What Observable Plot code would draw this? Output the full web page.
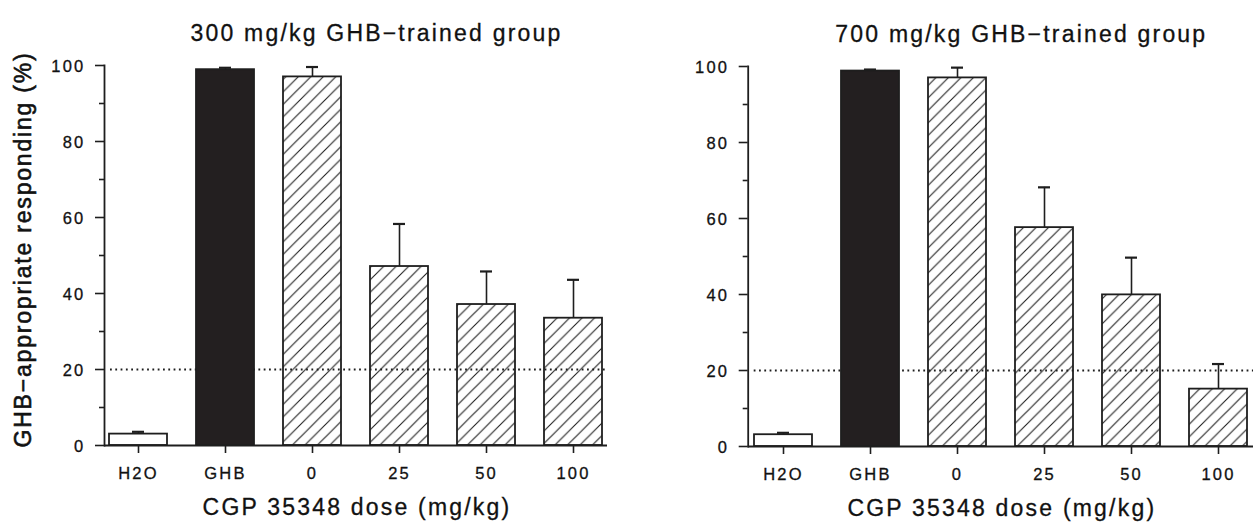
<!DOCTYPE html>
<html>
<head>
<meta charset="utf-8">
<script src="https://cdn.jsdelivr.net/npm/d3@7"></script>
<script src="https://cdn.jsdelivr.net/npm/@observablehq/plot@0.6"></script>
<style>
  body { margin: 0; background: #fff; }
  #wrap { display: flex; width: 1253px; height: 527px; overflow: hidden; }
  #wrap svg text { font-family: "Liberation Sans", Arial, sans-serif; }
</style>
</head>
<body>
<div id="wrap"></div>
<script>
// ---- data ----
const categories = ["H2O", "GHB", "0", "25", "50", "100"];
const barKind = ["vehicle", "training", "test", "test", "test", "test"];
const groupTitles = ["300 mg/kg GHB\u2212trained group", "700 mg/kg GHB\u2212trained group"];
const mean300 = [3.0, 98.9, 97.0, 47.1, 37.1, 33.5];
const sem300  = [0.6, 0.5, 2.6, 11.2, 8.7, 10.1];
const mean700 = [3.1, 98.8, 97.0, 57.6, 39.9, 15.1];
const sem700  = [0.5, 0.4, 2.7, 10.6, 9.8, 6.6];
const majorTicks = [0, 20, 40, 60, 80, 100];
const minorTicks = [10, 30, 50, 70, 90];
const criterion = 20;
const yLabel = "GHB\u2212appropriate responding (%)";
const xLabel = "CGP 35348 dose (mg/kg)";

const ink = "#1e1e1e";

function panel(o) {
  const data = categories.map((c, i) => ({c, v: o.mean[i], e: o.sem[i], kind: barKind[i]}));
  const fills = {vehicle: "#ffffff", training: "#231f20", test: `url(#${o.id})`};
  const marks = [
    Plot.ruleY([criterion], {stroke: ink, strokeWidth: 2, strokeDasharray: "1.8,3.5", insetLeft: 6}),
    Plot.barY(data, {x: "c", y: "v", fill: d => fills[d.kind], stroke: ink, strokeWidth: 1.8}),
    Plot.ruleX(data, {x: "c", y1: "v", y2: d => d.v + d.e, stroke: ink, strokeWidth: 1.6}),
    Plot.tickY(data, {x: "c", y: d => d.v + d.e, stroke: ink, strokeWidth: 2.2, insetLeft: 23, insetRight: 23}),
    Plot.axisY(majorTicks, {tickSize: 9, tickFormat: () => "", color: ink, strokeWidth: 1.6, label: null}),
    Plot.text(majorTicks, {y: d => d, text: d => String(d), frameAnchor: "left", textAnchor: "end", dx: -19, dy: 1, fontSize: 16.5, fill: "#111"}),
    Plot.axisY(minorTicks, {tickSize: 5, tickFormat: () => "", color: ink, strokeWidth: 1.6, label: null}),
    Plot.axisX(categories, {tickSize: 8, tickPadding: 14, fontSize: 16.5, color: ink, strokeWidth: 1.6, label: null}),
    Plot.ruleY([0], {stroke: ink, strokeWidth: 1.8}),
    Plot.frame({anchor: "left", stroke: ink, strokeWidth: 1.8}),
    Plot.text([o.title], {frameAnchor: "top", dx: 20.5, dy: -40.7, fontSize: 23, fill: "#111"}),
    Plot.text([xLabel], {frameAnchor: "bottom", dx: 1, dy: 69, fontSize: 23, fill: "#111"})
  ];
  if (o.showY) {
    marks.push(Plot.text([yLabel], {frameAnchor: "left", textAnchor: "middle", rotate: -90, dx: -81, dy: -6, fontSize: 23, fill: "#111"}));
  }
  const svg = Plot.plot({
    width: o.width, height: 527,
    marginLeft: o.ml, marginRight: o.mr, marginTop: o.mt, marginBottom: o.mb,
    x: {type: "band", domain: categories, paddingInner: 0.333, paddingOuter: 0.04, axis: null, label: null},
    y: {domain: [0, 100], axis: null, label: null},
    color: {type: "identity"},
    style: {background: "transparent", overflow: "visible"},
    marks
  });
  // hatch pattern (transparent between the lines)
  const defs = d3.select(svg).insert("defs", ":first-child");
  const pat = defs.append("pattern")
    .attr("id", o.id).attr("patternUnits", "userSpaceOnUse")
    .attr("width", 12.5).attr("height", 12.5);
  pat.append("path").attr("d", "M-1,1 L1,-1 M0,12.5 L12.5,0 M11.5,13.5 L13.5,11.5")
    .attr("stroke", ink).attr("stroke-width", 1.1);
  const big = new Set([o.title, xLabel, yLabel]);
  d3.select(svg).selectAll("text").each(function () {
    const t = d3.select(this);
    const txt = this.textContent;
    const isBig = big.has(txt);
    t.style("font-size", isBig ? "23px" : "16.5px")
     .style("letter-spacing", txt === yLabel ? "1.8px" : "2.2px")
     .style("fill", "#111")
     .style("stroke", "#111")
     .style("stroke-width", txt === yLabel ? "0.6px" : "0.3px");
  });
  d3.select(svg).selectAll("path, line").filter(function () {
    return this.closest("defs") == null;
  }).style("stroke-opacity", 1);
  return svg;
}

const wrap = document.getElementById("wrap");
wrap.appendChild(panel({id: "hatchA", title: groupTitles[0], mean: mean300, sem: sem300,
  width: 626, ml: 104, mr: 19, mt: 65, mb: 82, showY: true}));
wrap.appendChild(panel({id: "hatchB", title: groupTitles[1], mean: mean700, sem: sem700,
  width: 627, ml: 121.7, mr: 0, mt: 66, mb: 81, showY: false}));
</script>
</body>
</html>
